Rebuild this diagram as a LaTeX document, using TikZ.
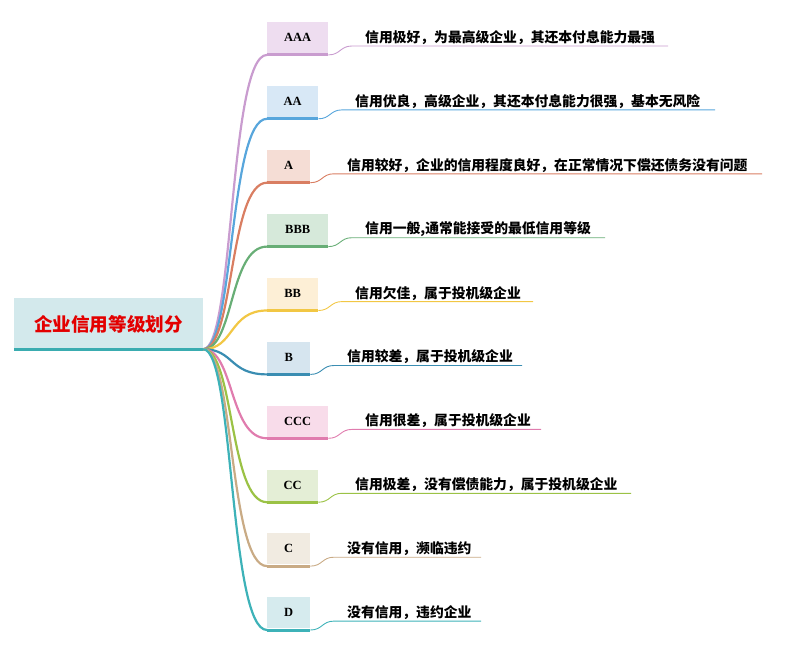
\documentclass[tikz,border=0pt]{standalone}
\usepackage{fontspec}
\setmainfont{Liberation Serif}
\newfontfamily\cjk{Noto Sans CJK SC}
\definecolor{fA}{HTML}{EEDDF0}\definecolor{lA}{HTML}{C99CCF}
\definecolor{fB}{HTML}{D8E8F6}\definecolor{lB}{HTML}{58A6DC}
\definecolor{fC}{HTML}{F5DDD5}\definecolor{lC}{HTML}{D97E62}
\definecolor{fD}{HTML}{D6E9DA}\definecolor{lD}{HTML}{68AE76}
\definecolor{fE}{HTML}{FDEFD6}\definecolor{lE}{HTML}{F2C744}
\definecolor{fF}{HTML}{D6E5EF}\definecolor{lF}{HTML}{3A8DB2}
\definecolor{fG}{HTML}{F8DCEA}\definecolor{lG}{HTML}{E07CAE}
\definecolor{fH}{HTML}{E4EED6}\definecolor{lH}{HTML}{9BC245}
\definecolor{fI}{HTML}{F1EBE1}\definecolor{lI}{HTML}{C9AB85}
\definecolor{fJ}{HTML}{D6EBEE}\definecolor{lJ}{HTML}{3DB2B8}
\definecolor{rootfill}{HTML}{D3E9EC}\definecolor{rootline}{HTML}{3AACB0}
\definecolor{roottext}{HTML}{E30000}
\tikzset{
  lvl/.style={inner sep=0pt, minimum height=31pt, anchor=north west, font=\bfseries\fontsize{12.5}{12.5}\selectfont, text=black},
  desc/.style={inner sep=0pt, anchor=west, font=\cjk\bfseries\fontsize{13.8}{14}\selectfont, text=black},
  rootbox/.style={inner sep=0pt, minimum width=189pt, minimum height=53pt, fill=rootfill, font=\cjk\bfseries\fontsize{18.6}{19}\selectfont, text=roottext}
}
\begin{document}
\begin{tikzpicture}[x=1pt,y=-1pt]
\useasboundingbox (0,0) rectangle (810,647);
\node[rootbox] (root) at (108.5,324) {企业信用等级划分};
\draw[rootline, line width=3pt] ([yshift=1.5pt]root.south west) -- ([yshift=1.5pt]root.south east);
\coordinate (r) at ([yshift=1.5pt]root.south east);
\foreach \i/\lab/\w/\f/\l/\tx/\e in {
 0/AAA/61/fA/lA/{信用极好，为最高级企业，其还本付息能力最强}/668,
 1/AA/51/fB/lB/{信用优良，高级企业，其还本付息能力很强，基本无风险}/715,
 2/A/43/fC/lC/{信用较好，企业的信用程度良好，在正常情况下偿还债务没有问题}/762,
 3/BBB/61/fD/lD/{信用一般,通常能接受的最低信用等级}/605,
 4/BB/51/fE/lE/{信用欠佳，属于投机级企业}/533,
 5/B/43/fF/lF/{信用较差，属于投机级企业}/522,
 6/CCC/61/fG/lG/{信用很差，属于投机级企业}/541,
 7/CC/51/fH/lH/{信用极差，没有偿债能力，属于投机级企业}/631,
 8/C/43/fI/lI/{没有信用，濒临违约}/481,
 9/D/43/fJ/lJ/{没有信用，违约企业}/481}{
  \pgfmathsetmacro{\yt}{22+\i*63.9}
  \pgfmathsetmacro{\yb}{\yt+31}
  \pgfmathsetmacro{\yl}{\yb-7}
  \pgfmathsetmacro{\xr}{267+\w}
  \node[lvl, fill=\f, minimum width=\w pt] (b\i) at (267,\yt) {\lab};
  \draw[\l, line width=3pt] ([yshift=-1.5pt]b\i.south west) -- ([yshift=-1.5pt]b\i.south east);
  \node[desc] (t\i) at (\xr+37,\yt+15.5) {\tx};
  \coordinate (k\i) at (\xr+24,\yl);
  \coordinate (e\i) at (\e,\yl);
  \draw[\l, line width=0.9pt] ([yshift=-1.5pt]b\i.south east) .. controls +(12,0) and +(-12,0) .. (k\i) -- (e\i);
  \draw[\l, line width=2.2pt] (r) .. controls +(31,0) and +(-38,0) .. ([yshift=-1.5pt]b\i.south west);
}
\end{tikzpicture}
\end{document}
